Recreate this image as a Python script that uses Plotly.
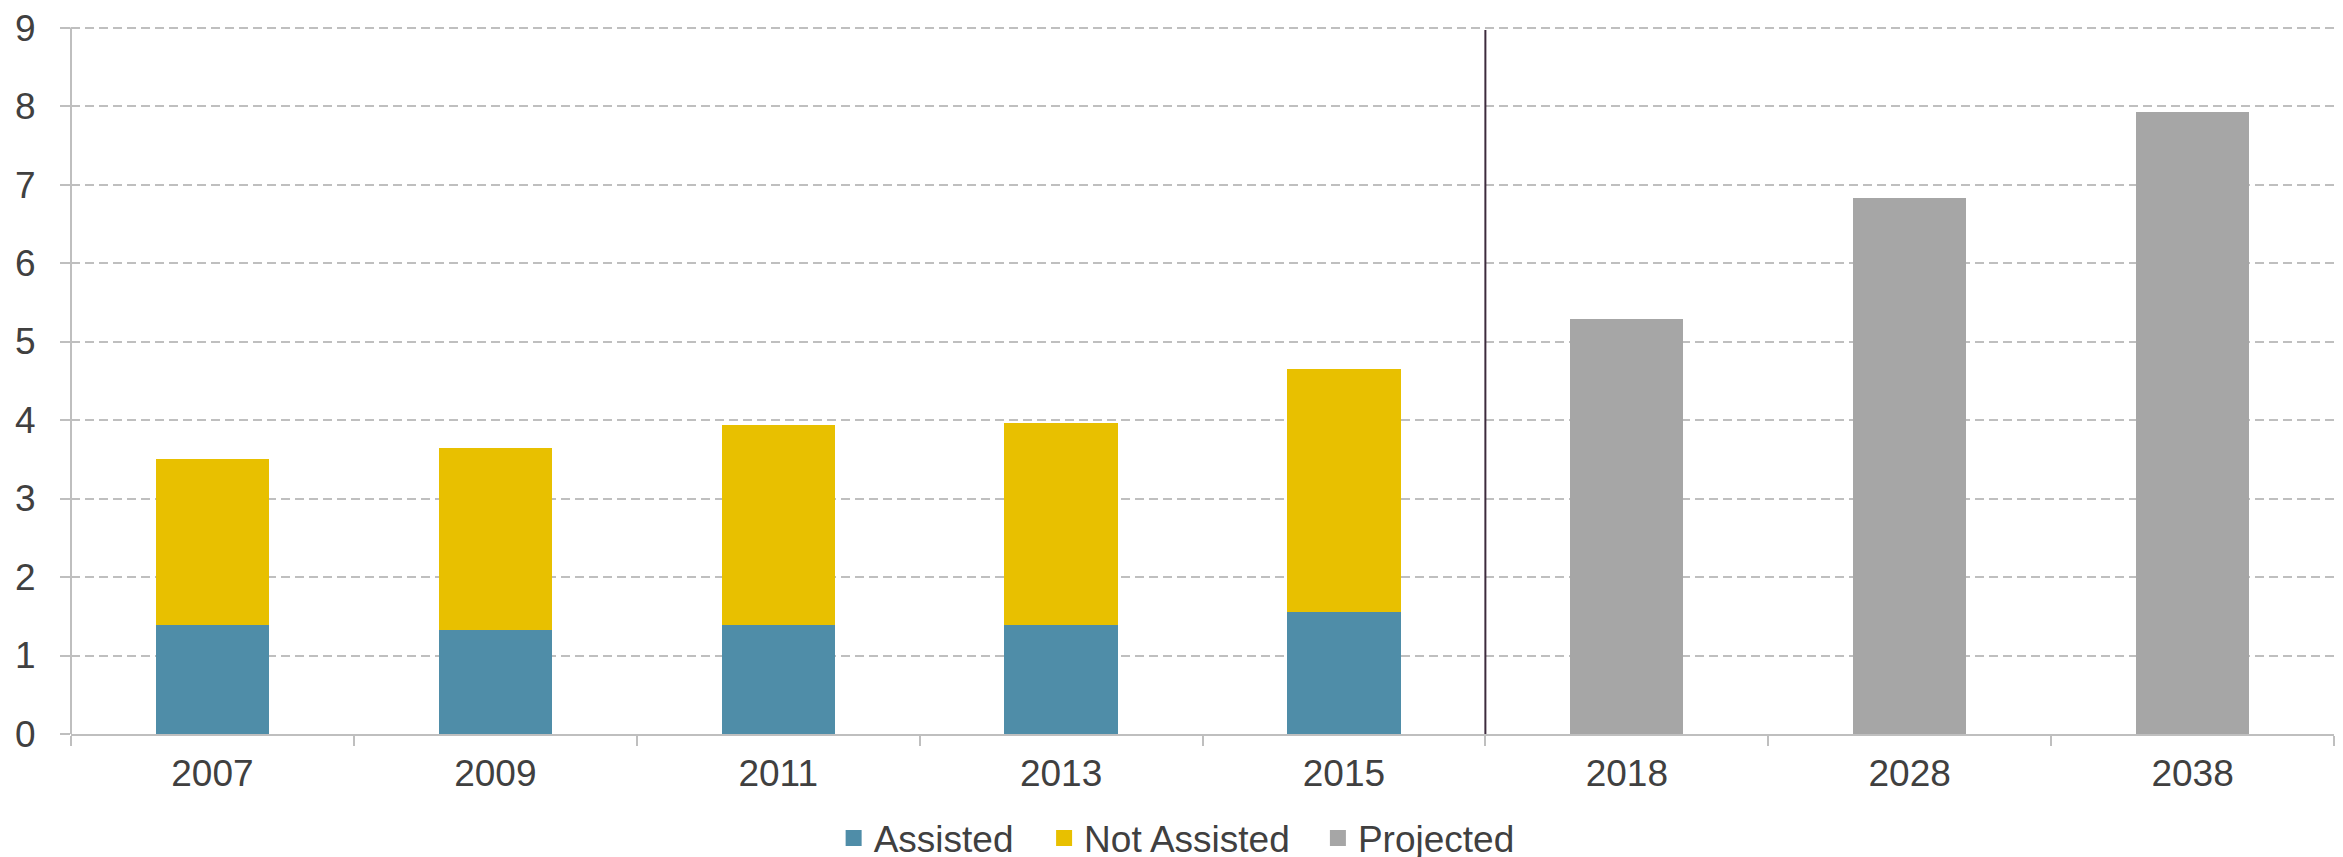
import plotly.graph_objects as go

years_hist = ["2007", "2009", "2011", "2013", "2015"]
years_proj = ["2018", "2028", "2038"]
all_years = years_hist + years_proj

assisted = [1.39, 1.32, 1.39, 1.39, 1.55]
not_assisted = [2.11, 2.33, 2.55, 2.57, 3.10]
projected = [5.29, 6.83, 7.93]

y_ticks = [0, 1, 2, 3, 4, 5, 6, 7, 8, 9]

series_names = ["Assisted", "Not Assisted", "Projected"]
series_colors = ["#4F8DA8", "#E8C000", "#A6A6A6"]
legend_ids = ["legend", "legend2", "legend3"]
legend_x = [0.3370, 0.4300, 0.5510]

FONT = "Liberation Sans, Arial, sans-serif"
TXT = "#404040"
FS = 37

fig = go.Figure()
fig.add_trace(go.Bar(x=years_hist, y=assisted, name=series_names[0], showlegend=False,
                     marker=dict(color=series_colors[0], line=dict(width=0))))
fig.add_trace(go.Bar(x=years_hist, y=not_assisted, name=series_names[1], showlegend=False,
                     marker=dict(color=series_colors[1], line=dict(width=0))))
fig.add_trace(go.Bar(x=years_proj, y=projected, name=series_names[2], showlegend=False,
                     marker=dict(color=series_colors[2], line=dict(width=0))))

# legend entries with larger square swatches, each in its own legend box
for nm, col, lid in zip(series_names, series_colors, legend_ids):
    fig.add_trace(go.Scatter(x=[None], y=[None], mode="markers", name=nm,
                             legend=lid,
                             marker=dict(symbol="square", size=18, color=col,
                                         line=dict(width=0))))

# divider between historical and projected periods
fig.add_shape(type="line", xref="x", yref="y",
              x0=len(years_hist) - 0.5, x1=len(years_hist) - 0.5,
              y0=-0.14, y1=8.97,
              line=dict(color="#3D2B3D", width=2), layer="above")

legend_style = dict(orientation="h", xanchor="left",
                    yref="container", y=0.031, yanchor="middle",
                    font=dict(family=FONT, size=FS, color=TXT),
                    itemsizing="trace", bgcolor="rgba(0,0,0,0)")

fig.update_layout(
    width=2343, height=857,
    margin=dict(l=63, r=17, t=18, b=131),
    barmode="stack", bargap=0.6,
    plot_bgcolor="white", paper_bgcolor="white",
    font=dict(family=FONT, size=FS, color=TXT),
    showlegend=True,
    legend=dict(x=legend_x[0], **legend_style),
    legend2=dict(x=legend_x[1], **legend_style),
    legend3=dict(x=legend_x[2], **legend_style),
    xaxis=dict(type="category", categoryorder="array", categoryarray=all_years,
               showline=True, linecolor="#BFBFBF", linewidth=2,
               ticks="outside", tickson="boundaries", ticklen=10,
               tickcolor="#BFBFBF", tickwidth=2, showgrid=False,
               automargin=False, ticklabelstandoff=6,
               tickfont=dict(family=FONT, size=FS, color=TXT)),
    yaxis=dict(range=[0, 9.02], tickvals=y_ticks, showline=False,
               ticks="outside", ticklen=10,
               tickcolor="#BFBFBF", tickwidth=2,
               showgrid=True, gridcolor="#BFBFBF", gridwidth=2,
               griddash="9px,5px",
               zeroline=False, ticklabelstandoff=17, automargin=False,
               ticklabeloverflow="allow",
               tickfont=dict(family=FONT, size=FS, color=TXT)),
)

# y-axis line drawn from 0 to 9 only, as in the reference
fig.add_shape(type="line", xref="paper", yref="y", x0=0, x1=0, y0=0, y1=9,
              line=dict(color="#BFBFBF", width=2), layer="above")

fig.write_html("out.html")
